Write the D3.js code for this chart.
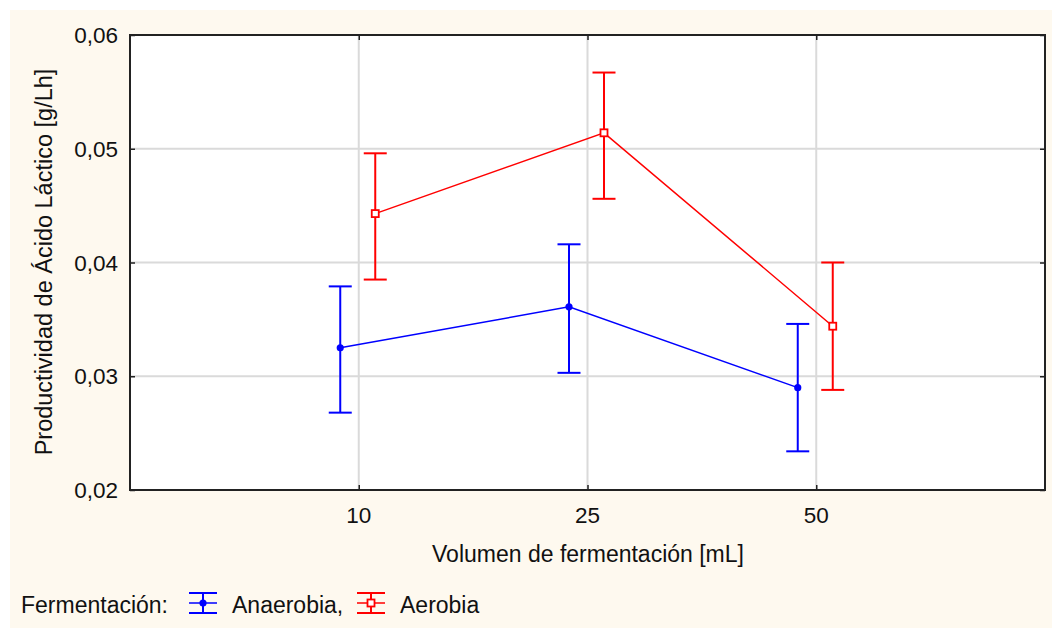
<!DOCTYPE html>
<html>
<head>
<meta charset="utf-8">
<script src="https://cdn.jsdelivr.net/npm/d3@7"></script>
<style>
  body { margin: 0; background: #fff; }
  text { font-family: "Liberation Sans", Arial, sans-serif; fill: #111; }
</style>
</head>
<body>
<div id="chart"></div>
<script>
// volumes on the x axis (categorical)
const volumes = ["10", "25", "50"];
const yTicks = [0.02, 0.03, 0.04, 0.05, 0.06];

// Anaerobia: mean and 95% interval
const anaMean  = [0.0325, 0.0361, 0.0290];
const anaLower = [0.0268, 0.0303, 0.0234];
const anaUpper = [0.0379, 0.0416, 0.0346];

// Aerobia
const aerMean  = [0.0443, 0.0514, 0.0344];
const aerLower = [0.0385, 0.0456, 0.0288];
const aerUpper = [0.0496, 0.0567, 0.0400];

const series = [
  { name: "Anaerobia,", color: "#0000ff", mean: anaMean, lo: anaLower, hi: anaUpper, shift: -18.5, marker: "circle" },
  { name: "Aerobia",    color: "#ff0000", mean: aerMean, lo: aerLower, hi: aerUpper, shift: 16.5,  marker: "square" },
];

const W = 1052, H = 631;
const plot = { left: 130, top: 35, right: 1045, bottom: 490 };

const svg = d3.select("#chart").append("svg").attr("width", W).attr("height", H);

// cream panel behind everything, leaving a thin white margin top/left
svg.append("rect").attr("x", 10).attr("y", 10).attr("width", W - 10).attr("height", H - 13)
  .attr("fill", "#fef9ef");
svg.append("rect").attr("x", plot.left).attr("y", plot.top)
  .attr("width", plot.right - plot.left).attr("height", plot.bottom - plot.top)
  .attr("fill", "#fff");

const x = d3.scalePoint().domain(volumes).range([plot.left, plot.right]).padding(1);
const y = d3.scaleLinear().domain([0.02, 0.06]).range([plot.bottom, plot.top]);
const fmt = v => d3.format(".2f")(v).replace(".", ",");

// grid
const grid = svg.append("g").attr("stroke", "#dadada").attr("stroke-width", 2);
grid.selectAll(".gx").data(volumes).join("line")
  .attr("x1", d => x(d)).attr("x2", d => x(d)).attr("y1", plot.top).attr("y2", plot.bottom);
grid.selectAll(".gy").data(yTicks.slice(1, -1)).join("line")
  .attr("x1", plot.left).attr("x2", plot.right).attr("y1", d => y(d)).attr("y2", d => y(d));

// axes with short inward ticks, labels drawn separately
const axL = svg.append("g").attr("transform", `translate(${plot.left},0)`)
  .call(d3.axisLeft(y).tickValues(yTicks).tickSize(-5).tickFormat(""));
const axR = svg.append("g").attr("transform", `translate(${plot.right},0)`)
  .call(d3.axisRight(y).tickValues(yTicks).tickSize(-5).tickFormat(""));
const axB = svg.append("g").attr("transform", `translate(0,${plot.bottom})`)
  .call(d3.axisBottom(x).tickSize(-5).tickFormat(""));
const axT = svg.append("g").attr("transform", `translate(0,${plot.top})`)
  .call(d3.axisTop(x).tickSize(-5).tickFormat(""));
[axL, axR, axB, axT].forEach(g => {
  g.select(".domain").remove();
  g.selectAll("line").attr("stroke", "#222").attr("stroke-width", 1.5);
});

svg.append("rect").attr("x", plot.left).attr("y", plot.top)
  .attr("width", plot.right - plot.left).attr("height", plot.bottom - plot.top)
  .attr("fill", "none").attr("stroke", "#222").attr("stroke-width", 2);

// tick labels
svg.append("g").selectAll("text").data(yTicks).join("text")
  .attr("x", 118).attr("y", d => y(d) + 8)
  .attr("text-anchor", "end").attr("font-size", 22.5)
  .text(fmt);
svg.append("g").selectAll("text").data(volumes).join("text")
  .attr("x", d => x(d)).attr("y", 523)
  .attr("text-anchor", "middle").attr("font-size", 22.5)
  .text(d => d);

// axis titles
svg.append("text").attr("x", 588).attr("y", 562)
  .attr("text-anchor", "middle").attr("font-size", 23)
  .text("Volumen de fermentación [mL]");
svg.append("text").attr("transform", "translate(52,262) rotate(-90)")
  .attr("text-anchor", "middle").attr("font-size", 23.5)
  .text("Productividad de Ácido Láctico [g/Lh]");

// series
const capW = 23;
function drawMarker(g, s, cx, cy) {
  if (s.marker === "circle") {
    g.append("circle").attr("cx", cx).attr("cy", cy).attr("r", 3.6).attr("fill", s.color);
  } else {
    g.append("rect").attr("x", cx - 3.5).attr("y", cy - 3.5).attr("width", 7).attr("height", 7)
      .attr("fill", "#fff").attr("stroke", s.color).attr("stroke-width", 1.8);
  }
}

for (const s of series) {
  const g = svg.append("g");
  const px = i => x(volumes[i]) + s.shift;
  g.append("path")
    .attr("d", d3.line().x((d, i) => px(i)).y(d => y(d))(s.mean))
    .attr("fill", "none").attr("stroke", s.color).attr("stroke-width", 1.5);
  s.mean.forEach((m, i) => {
    const cx = px(i);
    g.append("line").attr("x1", cx).attr("x2", cx).attr("y1", y(s.lo[i])).attr("y2", y(s.hi[i]))
      .attr("stroke", s.color).attr("stroke-width", 2);
    [s.lo[i], s.hi[i]].forEach(v => {
      g.append("line").attr("x1", cx - capW / 2).attr("x2", cx + capW / 2)
        .attr("y1", y(v)).attr("y2", y(v))
        .attr("stroke", s.color).attr("stroke-width", 2);
    });
    drawMarker(g, s, cx, y(m));
  });
}

// legend
const leg = svg.append("g");
leg.append("text").attr("x", 21).attr("y", 613).attr("font-size", 23).text("Fermentación:");
const legPos = [{ sx: 203, tx: 232 }, { sx: 371, tx: 400 }];
series.forEach((s, i) => {
  const cx = legPos[i].sx, cy = 603;
  const lg = leg.append("g").attr("stroke", s.color).attr("stroke-width", 2);
  lg.append("line").attr("x1", cx - 14).attr("x2", cx + 14).attr("y1", cy - 10).attr("y2", cy - 10);
  lg.append("line").attr("x1", cx - 14).attr("x2", cx + 14).attr("y1", cy + 10).attr("y2", cy + 10);
  lg.append("line").attr("x1", cx).attr("x2", cx).attr("y1", cy - 10).attr("y2", cy + 10);
  lg.append("line").attr("x1", cx - 14).attr("x2", cx + 14).attr("y1", cy).attr("y2", cy)
    .attr("stroke-width", 1.5);
  drawMarker(leg, s, cx, cy);
  leg.append("text").attr("x", legPos[i].tx).attr("y", 613).attr("font-size", 23).text(s.name);
});
</script>
</body>
</html>
